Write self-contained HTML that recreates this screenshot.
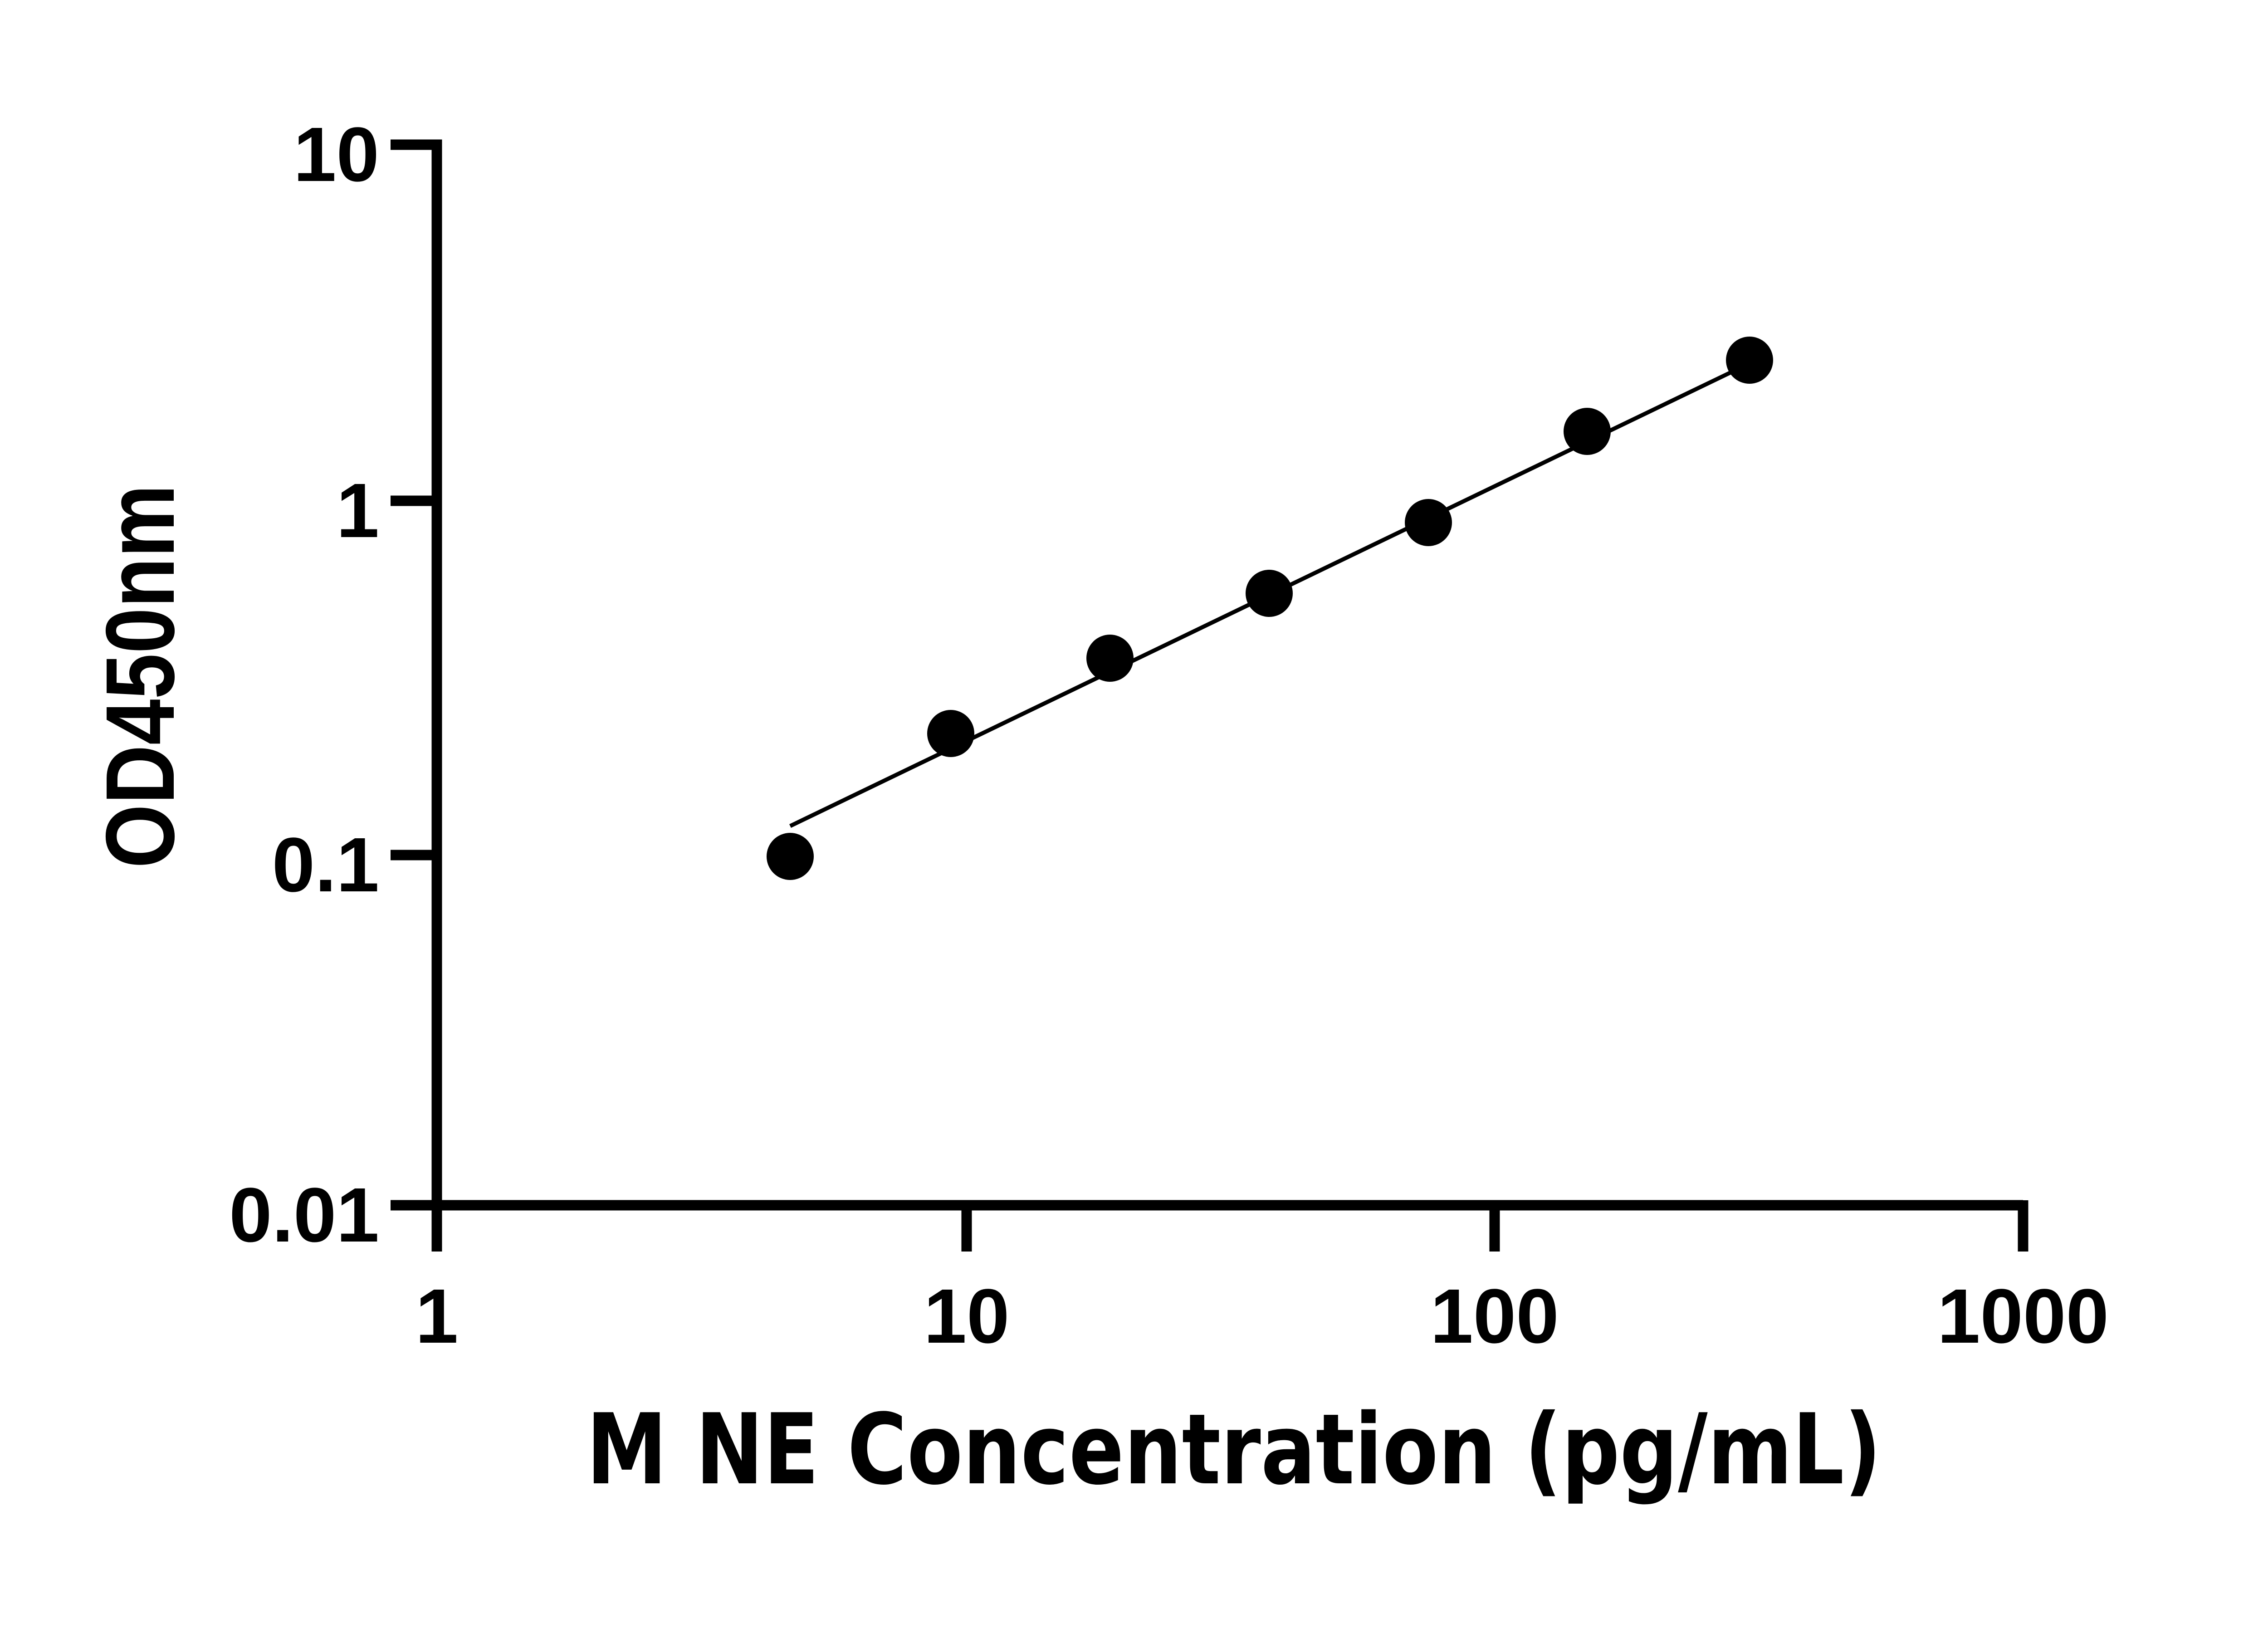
<!DOCTYPE html>
<html><head><style>html,body{margin:0;padding:0;background:#fff}svg{display:block}</style></head>
<body>
<svg width="5142" height="3600" viewBox="0 0 5142 3600" xmlns="http://www.w3.org/2000/svg">
<rect width="5142" height="3600" fill="#fff"/>
<g stroke="#000" stroke-width="23" fill="none" stroke-linecap="butt">
<path d="M861 319 H963 V2759"/>
<line x1="861" y1="1104" x2="963" y2="1104"/>
<line x1="861" y1="1885" x2="963" y2="1885"/>
<line x1="861" y1="2657" x2="4460" y2="2657"/>
<line x1="2131" y1="2657" x2="2131" y2="2759"/>
<line x1="3295" y1="2657" x2="3295" y2="2759"/>
<line x1="4460" y1="2646" x2="4460" y2="2759"/>
</g>
<g style="font-family:'Liberation Sans',Arial,sans-serif;font-weight:bold;font-size:170px" fill="#000">
<g text-anchor="end">
<text x="836" y="399">10</text>
<text x="836" y="1184">1</text>
<text x="836" y="1965">0.1</text>
<text x="836" y="2737">0.01</text>
</g>
<g text-anchor="middle">
<text x="963" y="2960">1</text>
<text x="2131" y="2960">10</text>
<text x="3295" y="2960">100</text>
<text x="4460" y="2960">1000</text>
</g>
</g>
<line x1="1742" y1="1821" x2="3857" y2="801" stroke="#000" stroke-width="9"/>
<g fill="#000">
<circle cx="1742" cy="1888" r="52"/>
<circle cx="2096" cy="1617" r="52"/>
<circle cx="2447" cy="1451" r="52"/>
<circle cx="2798" cy="1308" r="52"/>
<circle cx="3149" cy="1152" r="52"/>
<circle cx="3499" cy="951" r="52"/>
<circle cx="3857" cy="794" r="52"/>
</g>
<text x="2720" y="3270" text-anchor="middle" style="font-family:'DejaVu Sans',sans-serif;font-weight:bold;font-size:215px" textLength="2855" lengthAdjust="spacingAndGlyphs">M NE Concentration (pg/mL)</text>
<text transform="translate(383,1491) rotate(-90)" text-anchor="middle" style="font-family:'Liberation Sans',Arial,sans-serif;font-weight:bold;font-size:215px" textLength="846" lengthAdjust="spacingAndGlyphs">OD450nm</text>
</svg>
</body></html>
